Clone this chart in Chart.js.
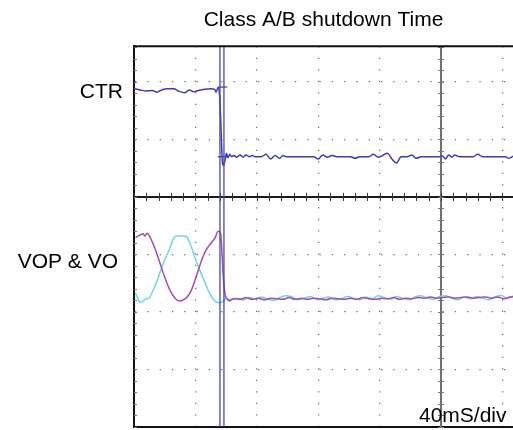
<!DOCTYPE html>
<html>
<head>
    <title>Class A/B shutdown Time</title>
    <script src="https://cdn.jsdelivr.net/npm/chart.js"></script>
    <style>
        body { margin: 0; padding: 0; background: #fff; }
        canvas { display: block; }
    </style>
</head>
<body>
    <canvas id="scopeChart" width="513" height="430"></canvas>

    <script>
        // time in ms (40 ms/div), levels in screen divisions
        const ctrTime = [
            -200, -196, -192, -188, -185, -182, -178, -174, -171, -167,
            -164, -161, -158, -154, -150, -147.5, -146.5, -145.3, -144.3, -143.6,
            -143, -142.4, -141.8, -140.8, -139.8, -138.8, -137.6, -136.4, -135, -133,
            -131, -129, -127, -125, -123, -121, -119, -117, -114, -111,
            -108, -105, -103, -101, -99, -97, -95, -92, -89, -86,
            -83, -80, -77, -74, -71, -68, -65, -62, -59, -56,
            -53, -50, -47, -44, -41, -38, -35, -32, -29, -26,
            -24, -22, -19, -16, -13, -10, -7, -4, -1, 1,
            3, 5, 7, 9, 12, 15, 18, 21, 24, 27,
            30, 33, 36, 39, 42, 44, 47
        ];
        const ctrLevel = [
            1.88, 1.86, 1.84, 1.85, 1.82, 1.86, 1.88, 1.88, 1.84, 1.81,
            1.86, 1.83, 1.85, 1.87, 1.88, 1.87, 1.82, 1.90, 1.78, 1.40,
            0.95, 0.60, 0.55, 0.62, 0.76, 0.68, 0.74, 0.70, 0.72, 0.69,
            0.73, 0.69, 0.73, 0.70, 0.72, 0.70, 0.70, 0.70, 0.74, 0.66,
            0.72, 0.67, 0.72, 0.70, 0.70, 0.70, 0.70, 0.70, 0.70, 0.70,
            0.70, 0.66, 0.73, 0.69, 0.72, 0.70, 0.70, 0.70, 0.70, 0.67,
            0.70, 0.70, 0.70, 0.74, 0.69, 0.72, 0.76, 0.66, 0.59, 0.70,
            0.70, 0.70, 0.73, 0.67, 0.70, 0.70, 0.70, 0.70, 0.70, 0.71,
            0.66, 0.73, 0.69, 0.73, 0.70, 0.70, 0.70, 0.70, 0.74, 0.70,
            0.70, 0.70, 0.70, 0.70, 0.70, 0.67, 0.71
        ];

        const vopTime = [
            -199, -196, -194, -193, -191.5, -189.6, -186.3, -183.1, -179.8, -176.6,
            -173.3, -170, -168.1, -166.1, -163.5, -160.9, -158.3, -155.1, -152.5, -149.8,
            -147.2, -145.3, -144, -143.3, -142.7, -142, -140.7, -139.4, -138.1, -135,
            -131, -127, -123, -119, -115, -111, -107, -103, -99, -95,
            -91, -87, -83, -79, -75, -71, -67, -63, -59, -55,
            -51, -47, -43, -39, -35, -31, -27, -23, -19, -15,
            -11, -7, -3, 1, 5, 9, 13, 17, 21, 25,
            29, 33, 37, 41, 45, 47
        ];
        const vopLevel = [
            -0.71, -0.66, -0.64, -0.68, -0.63, -0.70, -0.90, -1.15, -1.41, -1.62,
            -1.76, -1.81, -1.79, -1.76, -1.67, -1.50, -1.29, -1.04, -0.90, -0.80,
            -0.71, -0.60, -0.60, -0.70, -0.97, -1.32, -1.69, -1.77, -1.81, -1.77,
            -1.78, -1.75, -1.78, -1.76, -1.79, -1.76, -1.77, -1.78, -1.75, -1.78,
            -1.76, -1.78, -1.76, -1.77, -1.79, -1.76, -1.77, -1.78, -1.76, -1.78,
            -1.75, -1.77, -1.78, -1.76, -1.77, -1.75, -1.78, -1.76, -1.77, -1.75,
            -1.76, -1.74, -1.76, -1.75, -1.74, -1.76, -1.75, -1.74, -1.76, -1.75,
            -1.74, -1.76, -1.74, -1.77, -1.74, -1.73
        ];

        const voTime = [
            -199, -197.4, -196.1, -194.1, -192.2, -190.2, -188.3, -185.7, -183.1, -179.8,
            -176.6, -174, -172, -168.1, -165.5, -162.9, -159.6, -156.4, -153.1, -150.5,
            -147.9, -145.3, -142.7, -140.1, -137, -133, -129, -125, -121, -117,
            -113, -109, -105, -101, -97, -93, -89, -85, -81, -77,
            -73, -69, -65, -61, -57, -53, -49, -45, -41, -37,
            -33, -29, -25, -21, -17, -13, -9, -5, -1, 3,
            7, 11, 15, 19, 23, 27, 31, 35, 39, 43, 47
        ];
        const voLevel = [
            -1.67, -1.77, -1.83, -1.81, -1.77, -1.76, -1.67, -1.51, -1.32, -1.08,
            -0.89, -0.71, -0.68, -0.68, -0.70, -0.85, -1.11, -1.32, -1.53, -1.69,
            -1.79, -1.84, -1.83, -1.77, -1.78, -1.76, -1.79, -1.75, -1.77, -1.74,
            -1.78, -1.80, -1.75, -1.72, -1.74, -1.79, -1.76, -1.73, -1.78, -1.76,
            -1.74, -1.79, -1.77, -1.73, -1.76, -1.79, -1.74, -1.77, -1.72, -1.75,
            -1.78, -1.73, -1.76, -1.79, -1.74, -1.72, -1.76, -1.78, -1.73, -1.72,
            -1.76, -1.79, -1.74, -1.77, -1.73, -1.76, -1.79, -1.74, -1.71, -1.76, -1.74
        ];

        // scope cursors
        const cursorTimes = [-144.0, -141.4];
        const cursorLevels = [1.91, 0.70];
        const cursorSpan = [-145.5, -139.3];

        const traceLabels = ['CTR', 'VOP & VO'];
        const timebaseLabel = '40mS/div';

        const FONT = "'Liberation Sans', Arial, sans-serif";

        function toPoints(times, levels) {
            return times.map((t, i) => ({ x: t, y: levels[i] }));
        }

        // center cross, minor ticks, cursors and side labels
        const scopeDecor = {
            id: 'scopeDecor',
            beforeDatasetsDraw(chart) {
                const { ctx, chartArea: a, scales: { x, y } } = chart;
                const x0 = x.getPixelForValue(0);
                const y0 = y.getPixelForValue(0);
                ctx.save();
                ctx.lineWidth = 2;
                ctx.strokeStyle = '#1a1a1a';
                ctx.beginPath(); ctx.moveTo(a.left, y0); ctx.lineTo(a.right, y0); ctx.stroke();
                ctx.strokeStyle = '#707070';
                ctx.beginPath(); ctx.moveTo(x0, a.top); ctx.lineTo(x0, a.bottom); ctx.stroke();

                ctx.lineWidth = 1;
                ctx.strokeStyle = '#333';
                for (let t = x.min; t <= x.max; t += 8) {
                    const px = Math.round(x.getPixelForValue(t)) + 0.5;
                    ctx.beginPath(); ctx.moveTo(px, y0 - 4); ctx.lineTo(px, y0 + 4); ctx.stroke();
                }
                ctx.strokeStyle = '#777';
                for (let v = y.min; v <= y.max; v += 0.2) {
                    const py = Math.round(y.getPixelForValue(v)) + 0.5;
                    ctx.beginPath(); ctx.moveTo(x0 - 3, py); ctx.lineTo(x0 + 3, py); ctx.stroke();
                    ctx.beginPath(); ctx.moveTo(a.left, py); ctx.lineTo(a.left + 3, py); ctx.stroke();
                }
                ctx.restore();
            },
            afterDatasetsDraw(chart) {
                const { ctx, chartArea: a, scales: { x, y } } = chart;
                ctx.save();
                ctx.strokeStyle = '#4646b0';
                ctx.lineWidth = 1.3;
                cursorTimes.forEach(t => {
                    const px = x.getPixelForValue(t);
                    ctx.beginPath(); ctx.moveTo(px, a.top); ctx.lineTo(px, a.bottom); ctx.stroke();
                });
                cursorLevels.forEach(v => {
                    const py = y.getPixelForValue(v);
                    ctx.beginPath();
                    ctx.moveTo(x.getPixelForValue(cursorSpan[0]), py);
                    ctx.lineTo(x.getPixelForValue(cursorSpan[1]), py);
                    ctx.stroke();
                });
                // top frame edge
                ctx.strokeStyle = '#111';
                ctx.lineWidth = 2;
                ctx.beginPath(); ctx.moveTo(a.left - 1, a.top); ctx.lineTo(a.right, a.top); ctx.stroke();

                ctx.fillStyle = '#000';
                ctx.font = '21px ' + FONT;
                ctx.textAlign = 'right';
                ctx.textBaseline = 'alphabetic';
                ctx.fillText(traceLabels[0], 123, 98);
                ctx.fillText(traceLabels[1], 118, 268);
                ctx.textAlign = 'left';
                ctx.fillText(timebaseLabel, 419, 422);
                ctx.restore();
            }
        };

        const ctx = document.getElementById('scopeChart').getContext('2d');
        const chart = new Chart(ctx, {
            type: 'line',
            data: {
                datasets: [
                    { label: 'CTR', data: toPoints(ctrTime, ctrLevel), borderColor: '#3d3daa', borderWidth: 1.5 },
                    { label: 'VOP', data: toPoints(vopTime, vopLevel), borderColor: '#a24cb8', borderWidth: 1.5 },
                    { label: 'VO', data: toPoints(voTime, voLevel), borderColor: '#6fd6de', borderWidth: 1.5 }
                ]
            },
            options: {
                responsive: false,
                maintainAspectRatio: false,
                animation: false,
                devicePixelRatio: 1,
                events: [],
                elements: {
                    point: { radius: 0 },
                    line: { cubicInterpolationMode: 'monotone', fill: false }
                },
                layout: { padding: { left: 134, top: 0, right: 0, bottom: 3 } },
                plugins: {
                    legend: { display: false },
                    tooltip: { enabled: false },
                    title: {
                        display: true,
                        text: 'Class A/B shutdown Time',
                        color: '#000',
                        font: { family: FONT, size: 21, weight: 'normal' },
                        padding: { top: 8, bottom: 13 }
                    }
                },
                scales: {
                    x: {
                        type: 'linear',
                        min: -200,
                        max: 46.9,
                        ticks: { display: false, stepSize: 40, includeBounds: false },
                        grid: {
                            drawTicks: false,
                            color: c => (c.tick && (c.tick.value === 0 || c.tick.value === -200)) ? 'rgba(0,0,0,0)' : '#707070',
                            lineWidth: 1.3
                        },
                        border: { display: true, color: '#111', width: 2, dash: [1.3, 10.2] }
                    },
                    y: {
                        min: -4,
                        max: 2.62,
                        ticks: { display: false, stepSize: 1, includeBounds: false },
                        grid: {
                            drawTicks: false,
                            color: c => (c.tick && (c.tick.value === 0 || c.tick.value === -4)) ? 'rgba(0,0,0,0)' : '#707070',
                            lineWidth: 1.3
                        },
                        border: { display: true, color: '#111', width: 2, dash: [1.3, 11] }
                    }
                }
            },
            plugins: [scopeDecor]
        });
    </script>
</body>
</html>
